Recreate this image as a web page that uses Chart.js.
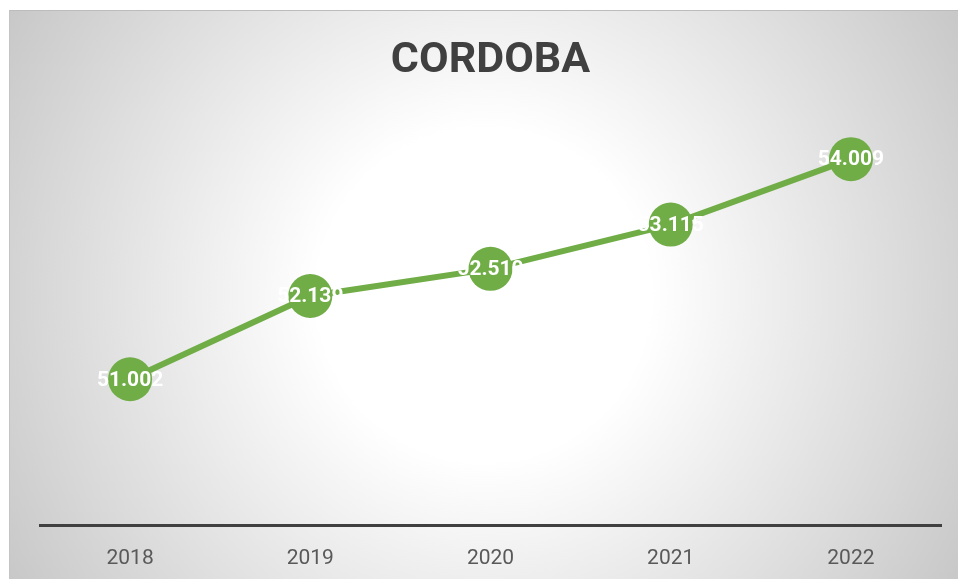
<!DOCTYPE html>
<html>
<head>
<meta charset="utf-8">
<script src="https://cdn.jsdelivr.net/npm/chart.js@4.4.1/dist/chart.umd.min.js"></script>
<style>
  html, body { margin: 0; padding: 0; background: #ffffff; }
  #wrap { position: relative; width: 958px; height: 579px; overflow: hidden; }
  #panel {
    position: absolute; left: 9px; top: 10px; width: 949px; height: 569px;
    box-sizing: border-box;
    border-top: 1px solid #bcbcbc; border-left: 1px solid #c4c4c4;
    background: radial-gradient(circle farthest-corner at 50% 50%, #ffffff 0%, #ffffff 30%, #c8c8c8 100%);
  }
  #chart { position: absolute; left: 0; top: 0; }
</style>
</head>
<body>
<div id="wrap">
  <div id="panel"></div>
  <canvas id="chart" width="958" height="579"></canvas>
</div>
<script>
// Chart data
const years  = ['2018', '2019', '2020', '2021', '2022'];
const values = [51002, 52139, 52510, 53115, 54009];
const yRange = [49000, 55000];

const GREEN = '#70ad47';

// 51002 -> "51.002"
function fmt(n) {
    return String(n).replace(/\B(?=(\d{3})+(?!\d))/g, '.');
}

// draw white value labels centred on each marker
const valueLabels = {
    id: 'valueLabels',
    afterDatasetsDraw(chart) {
        const ctx  = chart.ctx;
        const meta = chart.getDatasetMeta(0);
        ctx.save();
        ctx.font = 'bold 21px Roboto';
        ctx.fillStyle = '#ffffff';
        ctx.textAlign = 'center';
        ctx.textBaseline = 'middle';
        meta.data.forEach(function (pt, i) {
            ctx.fillText(fmt(values[i]), pt.x, pt.y + 1);
        });
        ctx.restore();
    }
};

new Chart(document.getElementById('chart').getContext('2d'), {
    type: 'line',
    data: {
        labels: years,
        datasets: [{
            data: values,
            borderColor: GREEN,
            borderWidth: 6,
            pointRadius: 22,
            pointHoverRadius: 22,
            pointBackgroundColor: GREEN,
            pointBorderWidth: 0,
            tension: 0,
            clip: false,
        }],
    },
    options: {
        responsive: false,
        animation: false,
        layout: {
            autoPadding: false,
            padding: { left: 40, right: 17, top: 0, bottom: -4 },
        },
        plugins: {
            legend: { display: false },
            tooltip: { enabled: false },
            title: {
                display: true,
                text: 'CORDOBA',
                color: '#404040',
                font: { family: 'Roboto', size: 43, weight: 'bold' },
                padding: { top: 35, bottom: 0 },
            },
        },
        scales: {
            x: {
                offset: true,
                grid: { display: false },
                border: { display: true, color: '#404040', width: 3 },
                ticks: {
                    color: '#595959',
                    font: { family: 'Roboto', size: 21 },
                    padding: 12,
                },
            },
            y: {
                display: false,
                min: yRange[0],
                max: yRange[1],
            },
        },
    },
    plugins: [valueLabels],
});
</script>
</body>
</html>
